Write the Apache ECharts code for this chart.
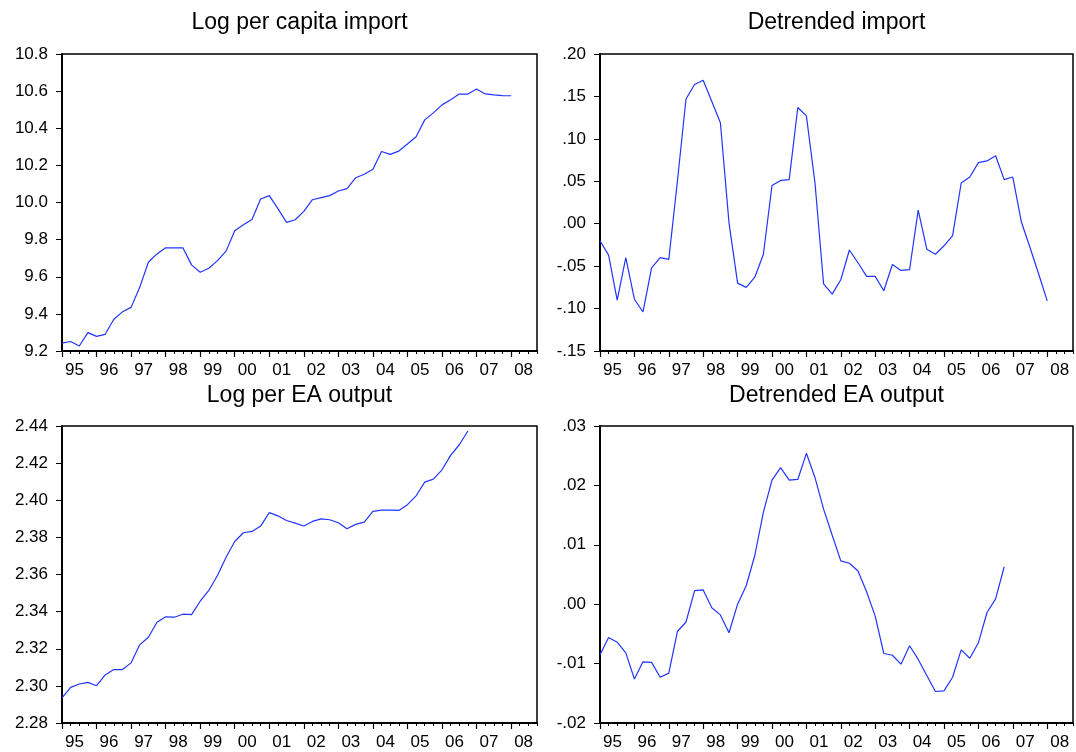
<!DOCTYPE html>
<html>
<head>
<meta charset="utf-8">
<title>Import and EA output</title>
<script src="https://cdn.jsdelivr.net/npm/echarts@6/dist/echarts.min.js"></script>
<style>
  html, body { margin: 0; padding: 0; background: #fff; }
  #chart { width: 1076px; height: 752px; }
</style>
</head>
<body>
<div id="chart"></div>
<script>
// Quarterly sample 1995Q1 - 2008Q4
const yearLabels = ['95','96','97','98','99','00','01','02','03','04','05','06','07','08'];
const yearsFull  = [1995,1996,1997,1998,1999,2000,2001,2002,2003,2004,2005,2006,2007,2008];

// Log per capita import (1995Q1 - 2008Q1)
const importLog = [9.242,9.251,9.227,9.299,9.279,9.290,9.371,9.411,9.435,9.543,
  9.678,9.723,9.756,9.756,9.756,9.664,9.624,9.646,9.687,9.738,
  9.848,9.880,9.909,10.019,10.037,9.967,9.893,9.907,9.952,10.015,
  10.026,10.037,10.062,10.075,10.133,10.152,10.179,10.275,10.259,10.277,
  10.315,10.354,10.445,10.483,10.526,10.553,10.584,10.584,10.611,10.585,
  10.580,10.576,10.575];

// Detrended import (1995Q1 - 2008Q1)
const importDetr = [-0.020,-0.037,-0.090,-0.040,-0.089,-0.104,-0.052,-0.040,-0.042,0.050,
  0.147,0.164,0.169,0.144,0.119,0.001,-0.070,-0.075,-0.063,-0.036,
  0.045,0.051,0.052,0.137,0.127,0.048,-0.071,-0.083,-0.066,-0.031,
  -0.046,-0.062,-0.062,-0.079,-0.048,-0.055,-0.054,0.016,-0.030,-0.036,
  -0.026,-0.014,0.048,0.055,0.072,0.074,0.080,0.052,0.055,0.002,
  -0.028,-0.059,-0.091];

// Log per EA output (1995Q1 - 2006Q4)
const outputLog = [2.2935,2.2992,2.3010,2.3019,2.3001,2.3059,2.3088,2.3088,2.3124,2.3221,
  2.3262,2.3343,2.3372,2.3370,2.3386,2.3384,2.3456,2.3514,2.3595,2.3693,
  2.3778,2.3825,2.3832,2.3861,2.3933,2.3916,2.3891,2.3877,2.3861,2.3886,
  2.3900,2.3895,2.3879,2.3846,2.3870,2.3882,2.3940,2.3947,2.3947,2.3945,
  2.3976,2.4024,2.4098,2.4114,2.4164,2.4242,2.4299,2.4373];

// Detrended EA output (1995Q1 - 2006Q4)
const outputDetr = [-0.0085,-0.0056,-0.0064,-0.0082,-0.0126,-0.0097,-0.0098,-0.0123,-0.0116,-0.0046,
  -0.0030,0.0023,0.0024,-0.0006,-0.0018,-0.0048,0.0000,0.0031,0.0082,0.0155,
  0.0209,0.0230,0.0209,0.0210,0.0254,0.0213,0.0160,0.0116,0.0073,0.0069,
  0.0056,0.0021,-0.0020,-0.0083,-0.0086,-0.0101,-0.0070,-0.0093,-0.0120,-0.0147,
  -0.0146,-0.0123,-0.0077,-0.0091,-0.0065,-0.0014,0.0009,0.0063];

const titles = ['Log per capita import', 'Detrended import', 'Log per EA output', 'Detrended EA output'];

// Quarter categories and their year label (shown on Q1 only)
const quarters = [];
const quarterYearLabel = {};
yearsFull.forEach((y, i) => {
  for (let q = 1; q <= 4; q++) {
    const key = y + 'Q' + q;
    quarters.push(key);
    quarterYearLabel[key] = q === 1 ? yearLabels[i] : '';
  }
});

const FONT = '"Liberation Sans", Arial, Helvetica, sans-serif';
const LINE_COLOR = '#2035ff';

// Panel frames (pixel layout)
const panels = [
  { left: 62,  top: 54,  width: 475, height: 297 },
  { left: 600, top: 54,  width: 473, height: 297 },
  { left: 62,  top: 426, width: 475, height: 297 },
  { left: 600, top: 426, width: 473, height: 297 }
];

const yScales = [
  { min: 9.2,   max: 10.8, interval: 0.2,  fmt: v => v.toFixed(1) },
  { min: -0.15, max: 0.20, interval: 0.05, fmt: v => v.toFixed(2).replace(/^(-?)0\./, '$1.') },
  { min: 2.28,  max: 2.44, interval: 0.02, fmt: v => v.toFixed(2) },
  { min: -0.02, max: 0.03, interval: 0.01, fmt: v => v.toFixed(2).replace(/^(-?)0\./, '$1.') }
];

const seriesData = [importLog, importDetr, outputLog, outputDetr];

const grid = [], xAxis = [], yAxis = [], series = [], graphic = [];

panels.forEach((p, i) => {
  grid.push({
    left: p.left, top: p.top, width: p.width, height: p.height,
    show: true, borderColor: '#000', borderWidth: 1.5, backgroundColor: 'transparent',
    containLabel: false
  });
  // quarterly minor ticks
  xAxis.push({
    type: 'category', gridIndex: i, data: quarters, boundaryGap: false, position: 'bottom',
    axisLine: { show: true, onZero: false, lineStyle: { color: '#000', width: 2 } },
    axisTick: { show: true, interval: 0, length: 3, lineStyle: { color: '#000', width: 1 } },
    axisLabel: { show: false },
    splitLine: { show: false }
  });
  // yearly major ticks and labels
  xAxis.push({
    type: 'category', gridIndex: i, data: quarters, boundaryGap: false, position: 'bottom',
    axisLine: { show: false, onZero: false },
    axisTick: { show: true, interval: 3, length: 6, lineStyle: { color: '#000', width: 1.2 } },
    axisLabel: {
      show: true, interval: 3, margin: 11, color: '#000', fontSize: 17, fontFamily: FONT,
      padding: [0, 0, 0, 25],
      formatter: v => quarterYearLabel[v] || ''
    },
    splitLine: { show: false }
  });
  const ys = yScales[i];
  yAxis.push({
    type: 'value', gridIndex: i, min: ys.min, max: ys.max, interval: ys.interval,
    axisLine: { show: true, onZero: false, lineStyle: { color: '#000', width: 2 } },
    axisTick: { show: true, length: 6, lineStyle: { color: '#000', width: 1 } },
    axisLabel: { color: '#000', fontSize: 17, fontFamily: FONT, margin: 14, formatter: ys.fmt },
    splitLine: { show: false }
  });
  series.push({
    type: 'line', xAxisIndex: i * 2, yAxisIndex: i, data: seriesData[i],
    showSymbol: false, symbol: 'none', smooth: false,
    lineStyle: { color: LINE_COLOR, width: 1.2 },
    emphasis: { disabled: true }, silent: true
  });
  graphic.push({
    type: 'text',
    x: p.left + p.width / 2,
    y: i < 2 ? 23 : 396,
    style: {
      text: titles[i], fill: '#000', font: '23px ' + FONT,
      textAlign: 'center', textVerticalAlign: 'middle'
    }
  });
});

const chart = echarts.init(document.getElementById('chart'), null, { renderer: 'canvas' });
chart.setOption({
  animation: false,
  backgroundColor: '#fff',
  grid, xAxis, yAxis, series, graphic
});
</script>
</body>
</html>
